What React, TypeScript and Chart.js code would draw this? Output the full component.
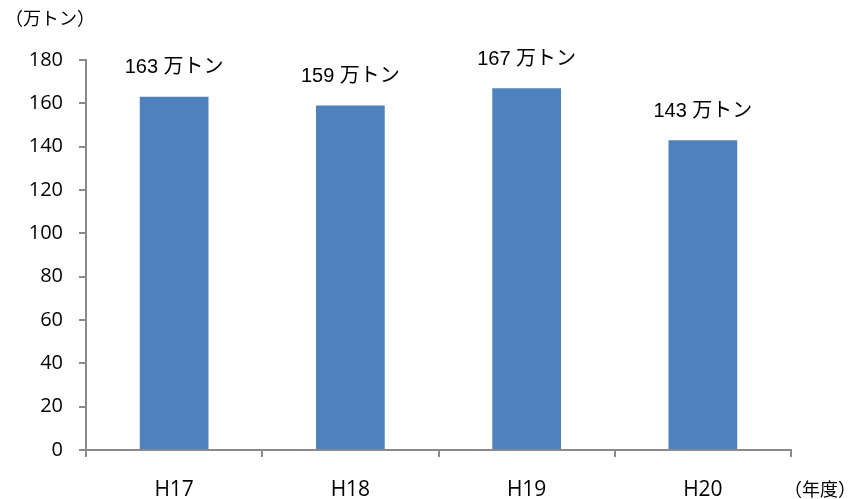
import React, { useEffect, useRef } from "react";
import { Chart, registerables } from "chart.js";

Chart.register(...registerables);

const categories = ["H17", "H18", "H19", "H20"];
const values = [163, 159, 167, 143];
const valueLabels = ["163 万トン", "159 万トン", "167 万トン", "143 万トン"];
const yTicks = [0, 20, 40, 60, 80, 100, 120, 140, 160, 180];
const yUnit = "（万トン）";
const xUnit = "（年度）";

const AXIS_FONT = '"Open Sans", "Noto Sans", sans-serif';
const LABEL_FONT = '"Liberation Sans", Arial, "Noto Sans CJK JP", sans-serif';
const CJK_FONT = '"Noto Sans CJK JP", sans-serif';
const AXIS_COLOR = "#8a8a8a";

const labelPlugin = {
  id: "barLabels",
  afterDatasetsDraw(chart: any) {
    const ctx = chart.ctx;
    const meta = chart.getDatasetMeta(0);
    ctx.save();
    ctx.fillStyle = "#000";
    ctx.font = `20px ${LABEL_FONT}`;
    ctx.textAlign = "center";
    ctx.textBaseline = "middle";
    meta.data.forEach((bar: any, i: number) => {
      ctx.fillText(valueLabels[i], bar.x, bar.y - 29);
    });
    ctx.font = `18px ${CJK_FONT}`;
    ctx.textAlign = "left";
    ctx.fillText(yUnit, 5, 18);
    ctx.fillText(xUnit, chart.chartArea.right - 7, 489);
    ctx.restore();
  },
};

export default function App() {
  const ref = useRef<HTMLCanvasElement>(null);
  useEffect(() => {
    document.body.style.margin = "0";
    const chart = new Chart(ref.current!, {
      type: "bar",
      data: {
        labels: categories,
        datasets: [
          {
            data: values,
            backgroundColor: "#4F81BD",
            borderWidth: 0,
            barPercentage: 0.39,
            categoryPercentage: 1,
          },
        ],
      },
      options: {
        animation: false,
        responsive: false,
        devicePixelRatio: 1,
        layout: { padding: { top: 60, right: 62, left: 0, bottom: 0 } },
        plugins: { legend: { display: false }, tooltip: { enabled: false } },
        scales: {
          x: {
            grid: {
              offset: true,
              drawOnChartArea: false,
              drawTicks: true,
              tickLength: 7,
              color: AXIS_COLOR,
              lineWidth: 2,
            },
            border: { color: AXIS_COLOR, width: 2 },
            ticks: {
              color: "#000",
              font: { family: AXIS_FONT, size: 21 },
              padding: 20,
              maxRotation: 0,
            },
            afterFit(scale: any) {
              scale.height = 49;
            },
          },
          y: {
            min: 0,
            max: 180,
            afterBuildTicks(scale: any) {
              scale.ticks = yTicks.map((v) => ({ value: v }));
            },
            grid: {
              drawOnChartArea: false,
              drawTicks: true,
              tickLength: 7,
              color: AXIS_COLOR,
              lineWidth: 2,
            },
            border: { color: AXIS_COLOR, width: 2 },
            ticks: {
              color: "#000",
              font: { family: AXIS_FONT, size: 20 },
              padding: 16,
            },
            afterFit(scale: any) {
              scale.width = 86;
            },
          },
        },
      },
      plugins: [labelPlugin],
    });
    return () => chart.destroy();
  }, []);
  return (
    <div style={{ position: "absolute", left: 0, top: 0, width: 853, height: 499, background: "#fff" }}>
      <canvas ref={ref} width={853} height={499} style={{ display: "block" }} />
    </div>
  );
}
